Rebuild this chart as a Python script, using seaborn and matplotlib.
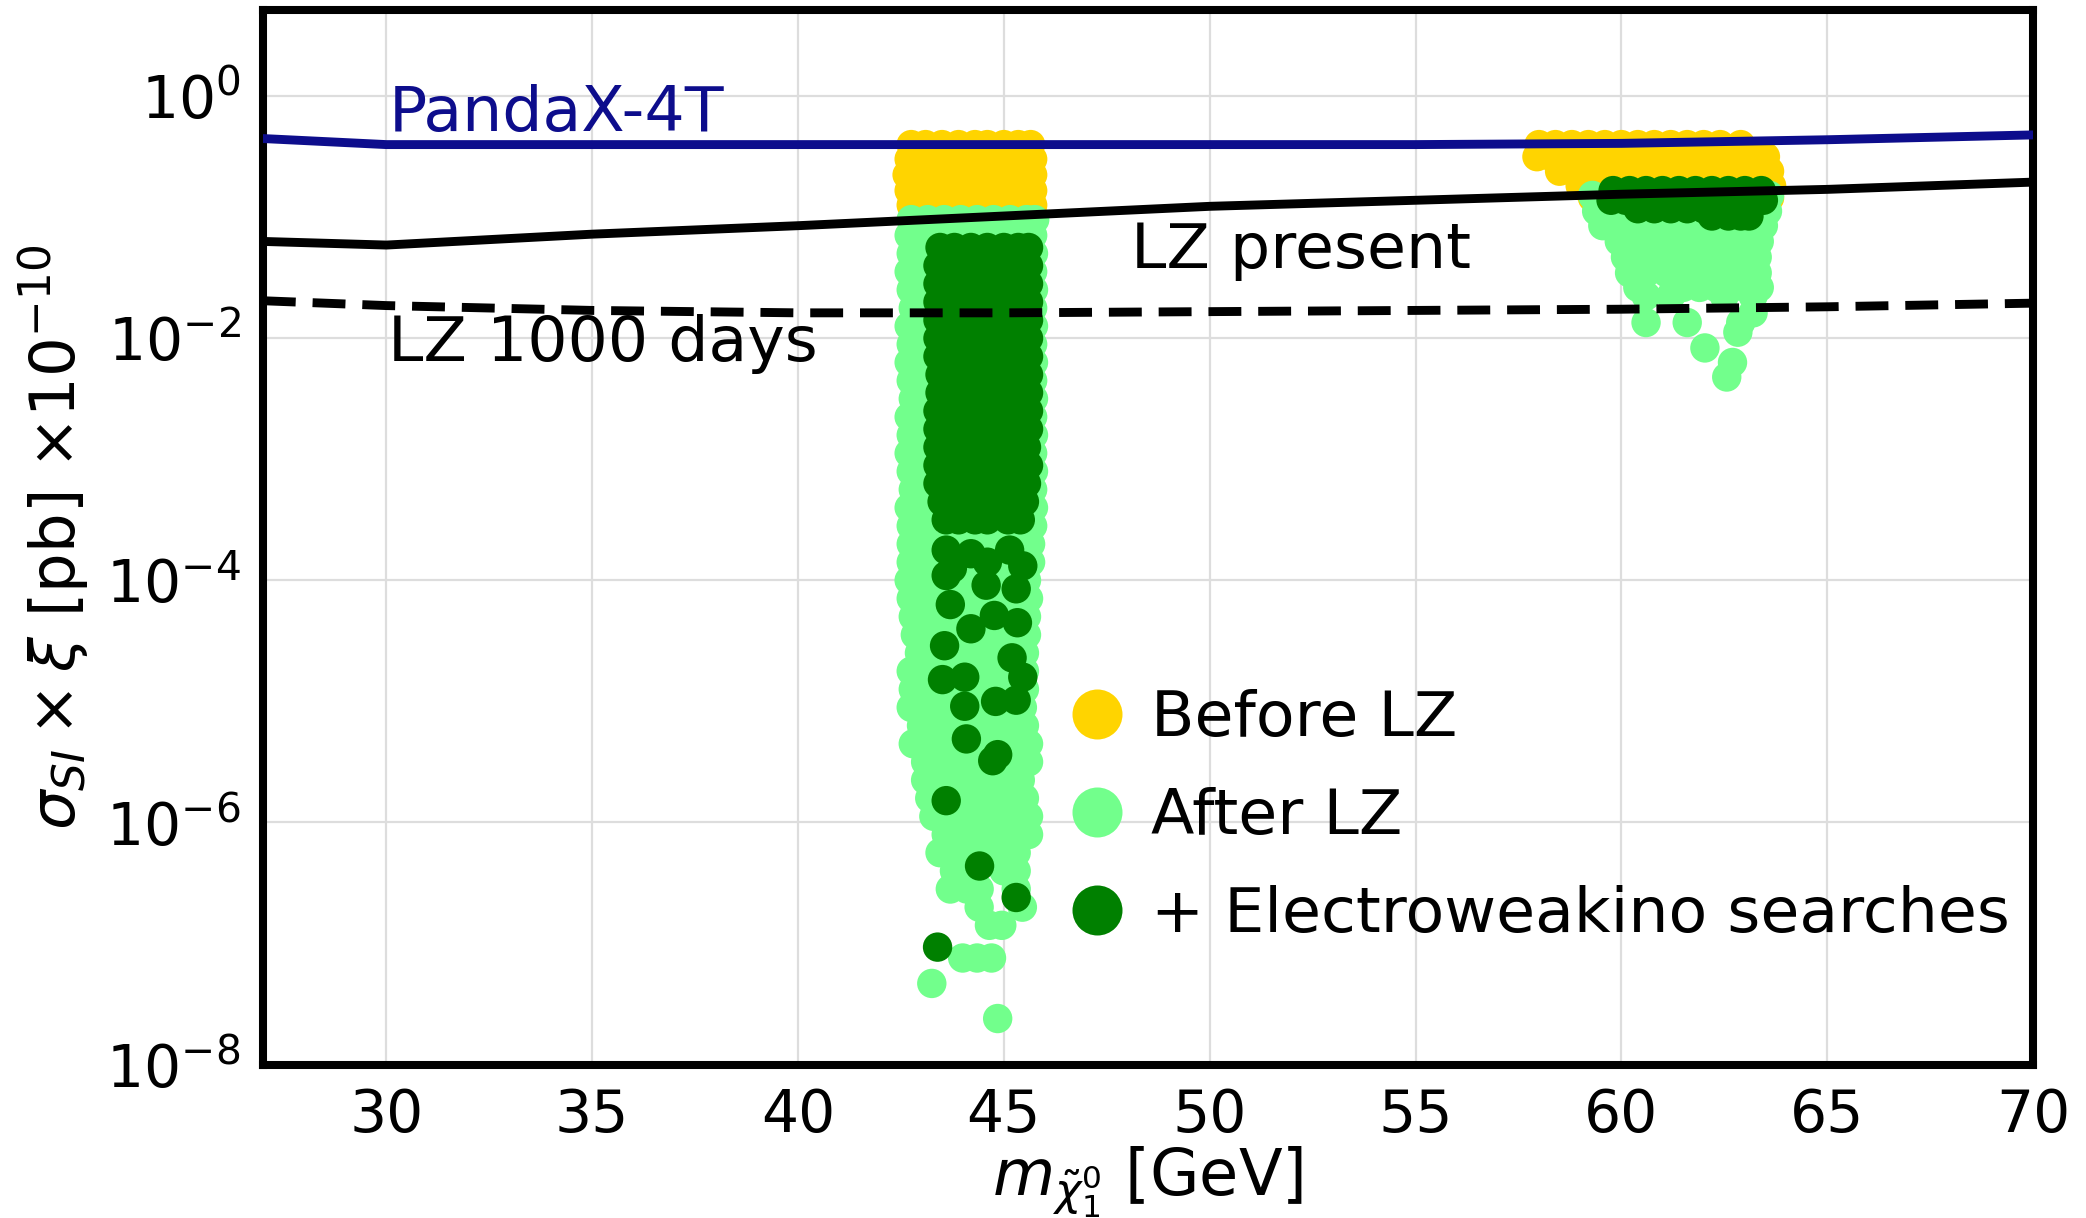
import numpy as np
import pandas as pd
import matplotlib
matplotlib.use("Agg")
import matplotlib.pyplot as plt
from matplotlib.lines import Line2D
from matplotlib.ticker import LogFormatterSciNotation, NullLocator
import seaborn as sns

# ---------------- limit curves (mass [GeV], log10 of sigma*xi / 1e-10 pb) ----
curve_mass = [27, 30, 35, 40, 45, 50, 55, 60, 65, 70]
pandax_log = [-0.35, -0.40, -0.40, -0.40, -0.40, -0.40, -0.40, -0.39, -0.36, -0.32]
lz_present_log = [-1.20, -1.23, -1.14, -1.07, -0.99, -0.91, -0.86, -0.81, -0.77, -0.71]
lz_1000_log = [-1.69, -1.73, -1.77, -1.79, -1.79, -1.78, -1.77, -1.76, -1.74, -1.71]

# ---------------- scan points: rows of (log10 value, [masses]) ----------------
# Z funnel
z_before_rows = [
    (-0.40, [42.75, 43.1, 43.5, 43.9, 44.3, 44.6, 45.0, 45.35, 45.65]),
    (-0.52, [42.7, 43.1, 43.5, 43.9, 44.3, 44.7, 45.1, 45.5, 45.7]),
    (-0.65, [42.65, 43.0, 43.4, 43.8, 44.2, 44.6, 45.0, 45.4, 45.7]),
    (-0.78, [42.7, 43.1, 43.5, 43.9, 44.3, 44.7, 45.1, 45.5, 45.7]),
    (-0.90, [42.75, 43.1, 43.5, 43.9, 44.3, 44.7, 45.1, 45.5, 45.7]),
]
z_after_rows = [
    (-1.02, [42.75, 43.15, 43.55, 43.95, 44.35, 44.75, 45.15, 45.55, 45.75]),
    (-1.15, [42.7, 43.1, 43.5, 43.9, 44.3, 44.7, 45.1, 45.5, 45.7]),
    (-1.30, [42.75, 43.05, 45.72]),
    (-1.45, [42.7, 43.0, 45.7]),
    (-1.60, [42.75, 43.05, 45.72]),
    (-1.75, [42.8, 43.05, 45.7]),
    (-1.90, [42.7, 43.0, 45.72]),
    (-2.05, [42.75, 43.05, 45.7]),
    (-2.20, [42.7, 43.0, 45.72]),
    (-2.35, [42.75, 43.05, 45.7]),
    (-2.50, [42.8, 43.05, 45.72]),
    (-2.65, [42.7, 43.0, 45.7]),
    (-2.80, [42.75, 43.05, 45.72]),
    (-2.95, [42.7, 43.0, 45.7]),
    (-3.10, [42.75, 43.05, 45.72]),
    (-3.25, [42.8, 43.05, 45.7]),
    (-3.40, [42.7, 43.0, 45.72]),
    (-3.55, [42.75, 43.05, 45.7]),
    (-3.70, [42.75, 43.2, 43.6, 44.0, 44.4, 44.8, 45.2, 45.65]),
    (-3.85, [42.75, 43.2, 43.6, 44.0, 44.4, 44.8, 45.2, 45.65]),
    (-4.00, [42.7, 43.1, 43.5, 43.9, 44.3, 44.7, 45.1, 45.55]),
    (-4.15, [42.75, 43.15, 43.55, 43.95, 44.35, 44.75, 45.15, 45.6]),
    (-4.30, [42.8, 43.2, 43.6, 44.0, 44.4, 44.8, 45.2, 45.55]),
    (-4.45, [42.85, 43.2, 43.6, 44.0, 44.4, 44.8, 45.2, 45.55]),
    (-4.60, [42.95, 43.3, 43.7, 44.1, 44.5, 44.9, 45.3, 45.5]),
    (-4.75, [42.75, 43.1, 43.5, 43.9, 44.3, 44.7, 45.1, 45.5]),
    (-4.90, [42.8, 43.2, 43.6, 44.0, 44.4, 44.8, 45.2, 45.5]),
    (-5.05, [42.75, 43.2, 43.6, 44.0, 44.4, 44.8, 45.2, 45.45]),
    (-5.20, [43.0, 43.3, 43.7, 44.1, 44.5, 44.9, 45.3, 45.5]),
    (-5.35, [42.8, 43.2, 43.6, 44.0, 44.4, 44.8, 45.2, 45.6]),
    (-5.50, [43.1, 43.4, 43.8, 44.2, 44.6, 45.0, 45.35, 45.6]),
    (-5.65, [43.1, 43.5, 43.9, 44.3, 44.7, 45.1, 45.4]),
    (-5.80, [43.2, 43.6, 44.0, 44.4, 44.8, 45.2, 45.5]),
    (-5.95, [43.3, 43.7, 44.1, 44.5, 44.9, 45.3, 45.6]),
    (-6.10, [43.6, 44.0, 44.4, 44.8, 45.2, 45.6]),
    (-6.25, [43.45, 43.8, 44.3, 44.9, 45.3]),
    (-6.40, [43.8, 44.2, 45.0, 45.3]),
    (-6.55, [43.7, 44.1, 44.4, 45.3]),
    (-6.70, [44.4, 45.45]),
    (-6.85, [44.65, 44.95]),
    (-7.12, [44.0, 44.35, 44.7]),
    (-7.33, [43.25]),
    (-7.62, [44.85]),
]
z_ewk_rows = [
    (-1.25, [43.45, 43.8, 44.2, 44.6, 45.0, 45.35, 45.6]),
    (-1.40, [43.4, 43.8, 44.2, 44.6, 45.0, 45.35, 45.6]),
    (-1.55, [43.4, 43.8, 44.2, 44.6, 45.0, 45.35, 45.6]),
    (-1.70, [43.4, 43.8, 44.2, 44.6, 45.0, 45.35, 45.6]),
    (-1.85, [43.4, 43.8, 44.2, 44.6, 45.0, 45.35, 45.6]),
    (-2.00, [43.4, 43.8, 44.2, 44.6, 45.0, 45.35, 45.6]),
    (-2.15, [43.4, 43.8, 44.2, 44.6, 45.0, 45.35, 45.6]),
    (-2.30, [43.45, 43.8, 44.2, 44.6, 45.0, 45.35, 45.6]),
    (-2.45, [43.45, 43.8, 44.2, 44.6, 45.0, 45.35, 45.6]),
    (-2.60, [43.4, 43.8, 44.2, 44.6, 45.0, 45.35, 45.6]),
    (-2.75, [43.4, 43.8, 44.2, 44.6, 45.0, 45.35, 45.6]),
    (-2.90, [43.4, 43.8, 44.2, 44.6, 45.0, 45.35, 45.55]),
    (-3.05, [43.4, 43.8, 44.2, 44.6, 45.0, 45.35, 45.6]),
    (-3.20, [43.4, 43.8, 44.2, 44.6, 45.0, 45.35, 45.55]),
    (-3.35, [43.5, 43.8, 44.2, 44.6, 45.0, 45.35, 45.5]),
    (-3.50, [43.6, 43.9, 44.3, 44.6, 45.1, 45.4]),
]
z_ewk_sparse_mass = [43.6, 43.75, 44.2, 44.6, 45.14, 45.46, 43.6, 43.7, 44.57, 45.3,
                     44.2, 44.77, 45.33, 43.56, 45.2, 43.51, 44.05, 45.46, 44.05,
                     44.8, 45.3, 44.09, 44.73, 44.85, 43.6, 44.41, 45.3, 43.39]
z_ewk_sparse_log = [-3.75, -3.90, -3.78, -3.85, -3.75, -3.88, -3.96, -4.20, -4.04, -4.07,
                    -4.40, -4.29, -4.35, -4.54, -4.64, -4.82, -4.80, -4.80, -5.04,
                    -5.00, -4.99, -5.31, -5.49, -5.44, -5.82, -6.36, -6.62, -7.03]

# Higgs funnel
h_before_rows = [
    (-0.40, [58.0, 58.4, 58.8, 59.2, 59.6, 60.0, 60.4, 60.8, 61.2, 61.6, 62.0, 62.4, 62.9]),
    (-0.50, [57.95, 58.3, 58.7, 59.1, 59.5, 59.9, 60.3, 60.7, 61.1, 61.5, 61.9, 62.3, 62.7, 63.1, 63.5]),
    (-0.62, [58.5, 58.8, 59.2, 59.6, 60.0, 60.4, 60.8, 61.2, 61.6, 62.0, 62.4, 62.8, 63.2, 63.6]),
    (-0.74, [59.0, 59.3, 59.7, 60.1, 60.5, 60.9, 61.3, 61.7, 62.1, 62.5, 62.9, 63.3, 63.65]),
    (-0.84, [59.3, 59.7, 60.1, 60.5, 60.9, 61.3, 61.7, 62.1, 62.5, 62.9, 63.3, 63.6]),
]
h_after_rows = [
    (-0.82, [59.3, 59.7, 60.1, 60.5, 60.9, 61.3, 61.7, 62.1, 62.5, 62.9, 63.3, 63.6]),
    (-0.95, [59.4, 59.8, 63.55]),
    (-1.07, [59.55, 59.9, 60.3, 60.7, 61.1, 61.5, 61.9, 62.3, 62.7, 63.1, 63.45]),
    (-1.20, [59.95, 60.3, 60.7, 61.1, 61.5, 61.9, 62.3, 62.7, 63.1, 63.35]),
    (-1.33, [60.1, 60.5, 60.9, 61.3, 61.7, 62.1, 62.5, 62.9, 63.3]),
    (-1.46, [60.2, 60.6, 61.1, 61.5, 61.9, 62.3, 62.7, 63.1, 63.3]),
    (-1.58, [60.4, 61.5, 61.9, 62.3, 62.7, 63.1, 63.35]),
    (-1.65, [60.6, 61.2, 62.5, 63.2]),
    (-1.79, [63.2]),
    (-1.87, [60.6, 61.6, 62.9]),
    (-1.95, [62.83]),
    (-2.08, [62.03]),
    (-2.20, [62.7]),
    (-2.32, [62.56]),
]
h_ewk_rows = [
    (-0.78, [59.8, 60.2, 60.6, 61.0, 61.4, 61.8, 62.2, 62.6, 63.0, 63.4]),
    (-0.86, [59.75, 60.1, 60.5, 60.9, 61.3, 61.7, 62.1, 62.5, 62.9, 63.3, 63.45]),
    (-0.93, [60.4, 60.8, 61.2, 61.6, 62.0, 62.4]),
    (-0.99, [62.2, 62.6, 62.9, 63.1]),
]

group_names = ["Before LZ", "After LZ", "+ Electroweakino searches"]
group_colors = ["#FFD400", "#72FF8C", "#008000"]


def flatten(rows, name):
    out = []
    for e, xs in rows:
        for x in xs:
            out.append((x, 10.0 ** e, name))
    return out


records = []
records += flatten(z_before_rows, group_names[0])
records += flatten(h_before_rows, group_names[0])
records += flatten(z_after_rows, group_names[1])
records += flatten(h_after_rows, group_names[1])
records += flatten(z_ewk_rows, group_names[2])
records += [(m, 10.0 ** e, group_names[2]) for m, e in zip(z_ewk_sparse_mass, z_ewk_sparse_log)]
records += flatten(h_ewk_rows, group_names[2])
pts = pd.DataFrame(records, columns=["mass", "sigma", "group"])

curves = pd.DataFrame({
    "mass": curve_mass,
    "pandax": [10.0 ** v for v in pandax_log],
    "lz": [10.0 ** v for v in lz_present_log],
    "lz1000": [10.0 ** v for v in lz_1000_log],
})

# ---------------- figure ----------------
sns.set_style("whitegrid")
plt.rcParams["font.family"] = ["DejaVu Sans"]
plt.rcParams["mathtext.fontset"] = "dejavusans"
for k in ["text.color", "axes.labelcolor", "xtick.color", "ytick.color"]:
    plt.rcParams[k] = "black"
FS = 21
FS2 = 22.8

fig = plt.figure(figsize=(10.43, 6.09), dpi=200)
ax = fig.add_axes([0.126, 0.126, 0.8486, 0.8656])

ax.set_yscale("log")
for name, col in zip(group_names, group_colors):
    sub = pts[pts["group"] == name]
    sns.scatterplot(data=sub, x="mass", y="sigma", color=col, s=112,
                    linewidth=0, edgecolor="none", ax=ax, zorder=3, legend=False)

sns.lineplot(data=curves, x="mass", y="pandax", color="#0D0D8C", lw=3.2, ax=ax, zorder=4)
sns.lineplot(data=curves, x="mass", y="lz", color="black", lw=3.2, ax=ax, zorder=4)
sns.lineplot(data=curves, x="mass", y="lz1000", color="black", lw=3.2, ax=ax, zorder=4,
             linestyle=(0, (3.7, 1.9)))

ax.set_xlim(27, 70)
ax.set_ylim(1e-8, 10 ** 0.71)
ax.set_xticks([30, 35, 40, 45, 50, 55, 60, 65, 70])
ax.set_yticks([1e0, 1e-2, 1e-4, 1e-6, 1e-8])
ax.yaxis.set_major_formatter(LogFormatterSciNotation())
ax.yaxis.set_minor_locator(NullLocator())
ax.tick_params(axis="both", which="major", direction="in", length=9.5, width=2.2,
               labelsize=FS, color="black", labelcolor="black", pad=8)
ax.grid(True, color="#DDDDDD", lw=0.8)
for sp in ax.spines.values():
    sp.set_color("black")
    sp.set_linewidth(2.9)

ax.set_xlabel(r"$m_{\tilde{\chi}_1^0}$ [GeV]", fontsize=23, labelpad=0, color="black")
ax.set_ylabel(r"$\sigma_{SI}\times\xi$ [pb] $\times10^{-10}$", fontsize=22.5, labelpad=5,
              color="black")

ax.text(30.05, 10 ** -0.15, "PandaX-4T", color="#0D0D8C", fontsize=FS2, va="center", ha="left")
ax.text(48.1, 10 ** -1.28, "LZ present", color="black", fontsize=FS2, va="center", ha="left")
ax.text(30.05, 10 ** -2.05, "LZ 1000 days", color="black", fontsize=FS2, va="center", ha="left")

handles = [Line2D([], [], marker="o", ls="none", color=c, markersize=18, markeredgewidth=0)
           for c in group_colors]
leg = ax.legend(handles, group_names, loc="upper left", bbox_to_anchor=(0.425, 0.398),
                frameon=False, fontsize=FS2, handletextpad=0.25, labelspacing=0.6,
                handlelength=1.2, borderpad=0.2)
for t in leg.get_texts():
    t.set_color("black")

fig.savefig("out.png", dpi=200)
